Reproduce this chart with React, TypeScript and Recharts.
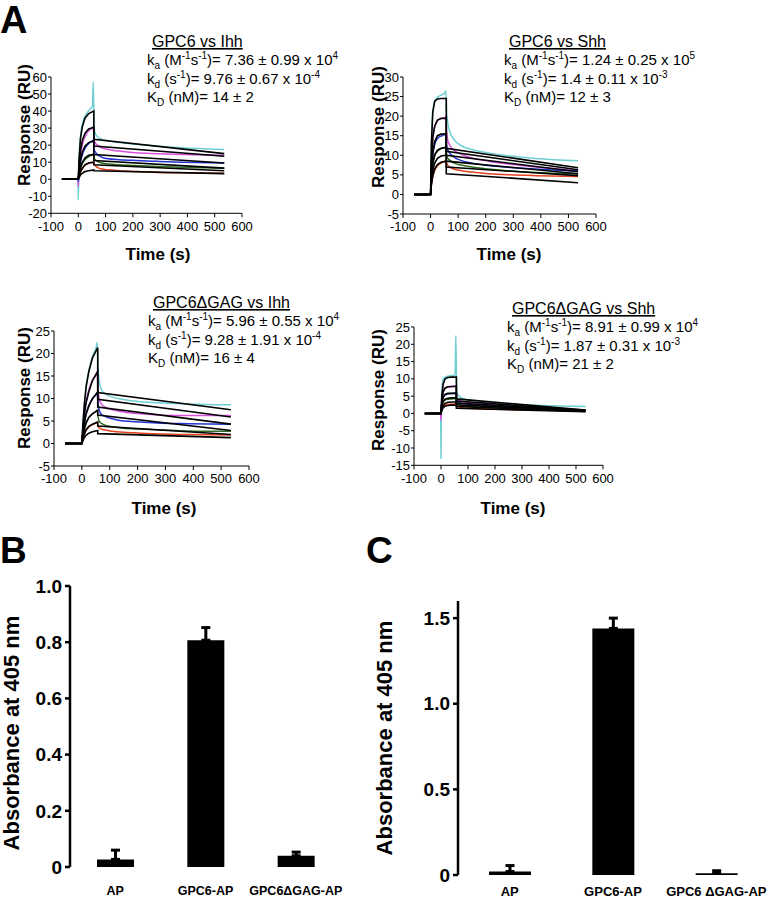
import React from "react";
import { LineChart, Line, XAxis, YAxis, BarChart, Bar, ErrorBar } from "recharts";

const FONT = "'Liberation Sans', Arial, Helvetica, sans-serif";

// sensorgram sampling times (s)
const traceTimes = [-60, -1, 0, 2, 8, 16, 28, 42, 52, 55, 58, 62, 70, 85, 110, 150, 210, 290, 380, 535];
const fitTimes = [-60, 0, 3, 8, 15, 25, 38, 57, 57, 535];
const timeTicks = [-100, 0, 100, 200, 300, 400, 500, 600];
const traceColors = ["#6dcfd2", "#dc4fdf", "#2233d2", "#2f6c22", "#e2421c"];

// GPC6 vs Ihh
const ihhTraces = [
  [0, 0, -12, 8, 25, 33, 38, 41, 43, 57, 30, 27, 25, 23.5, 22.5, 21.5, 20.5, 19.5, 18.5, 17.5],
  [0, 0, -4, 4, 14, 21, 26, 29, 30, 31, 23, 21.5, 20, 18.5, 17.5, 16.5, 15.5, 15, 14.5, 14],
  [0, 0, -1, 3, 10, 15, 19, 21.5, 22.5, 23, 17.5, 16, 14.5, 13, 12, 11.5, 11, 10.5, 10, 9.5],
  [0, 0, 0, 2, 6, 9.5, 12, 13.5, 14.5, 15, 12.5, 11.5, 10.5, 9.5, 9, 8.5, 8, 7.5, 7, 6.5],
  [0, 0, 0, 1.5, 4, 6.5, 8.5, 9.5, 10, 10, 9, 8, 7, 6, 5.5, 5, 4.5, 4, 3.8, 3.5],
];
const ihhFits = [
  [0, 0, 12, 24, 31, 36, 38.5, 40, 23.5, 15],
  [0, 0, 8, 17, 23, 27, 29.5, 30.5, 19.5, 13.5],
  [0, 0, 5, 11, 16, 19.5, 21.5, 22.5, 14.5, 9.5],
  [0, 0, 3, 7, 10, 12.5, 14, 14.5, 11, 6.5],
  [0, 0, 2, 4.5, 6.5, 8.5, 9.5, 10, 8.5, 5],
  [0, 0, 1, 2.5, 3.5, 4.5, 5, 5.5, 5, 3.3],
];

// GPC6 vs Shh
const shhTraces = [
  [0, 0, 0, 8, 21, 24, 25, 25.5, 26, 26.5, 21, 18.5, 16, 14, 12.5, 11.5, 10.6, 9.8, 9.2, 8.6],
  [0, 0, 0, 5, 14, 17.5, 19, 19.5, 19.5, 20, 16, 14, 12.5, 11.3, 10.3, 9.3, 8.5, 7.7, 7, 6.1],
  [0, 0, 0, 4, 10, 13, 14.5, 15, 15.3, 15.5, 12.5, 11.5, 10.5, 9.5, 8.7, 8, 7.4, 6.9, 6.5, 6],
  [0, 0, 0, 3, 7.5, 10, 11.2, 11.8, 12, 12.2, 10, 9.3, 8.7, 8, 7.5, 7, 6.5, 6, 5.6, 5.3],
  [0, 0, 0, 2, 4.5, 6.3, 7.5, 8.2, 8.5, 8.7, 8, 7.5, 7, 6.5, 6.1, 5.7, 5.3, 5, 4.8, 4.6],
];
const shhFits = [
  [0, 0, 13, 21, 23.8, 24.4, 24.5, 24.5, 11.8, 6.8],
  [0, 0, 8, 14.5, 17.5, 19, 19.4, 19.5, 11, 6.3],
  [0, 0, 5.5, 10.5, 13.5, 15, 15.4, 15.5, 10, 5.8],
  [0, 0, 4, 8, 10.2, 11.3, 11.8, 12, 8.5, 5.3],
  [0, 0, 3, 6, 8, 9.2, 9.8, 10, 7, 4.8],
  [0, 0, 2.5, 4.8, 6.5, 7.6, 8.2, 8.5, 5.3, 3],
];

// GPC6ΔGAG vs Ihh
const dIhhTraces = [
  [0, 0, 0, 2, 8, 13, 17, 20, 21.5, 22.5, 17, 14, 12, 11, 10.3, 9.8, 9.3, 9, 8.8, 8.6],
  [0, 0, 0, 1.5, 6, 9.5, 12.5, 14.5, 15.5, 16, 12, 10, 8.8, 8, 7.5, 7, 6.6, 6.3, 6.2, 6.2],
  [0, 0, 0, 1, 4, 6.8, 8.8, 10.2, 11, 11.3, 9, 7.5, 6.5, 6, 5.5, 5, 4.8, 4.5, 4.4, 4.3],
  [0, 0, 0, 0.8, 3, 4.7, 6, 6.8, 7.2, 7.4, 6, 5, 4.5, 4, 3.7, 3.4, 3.2, 3, 2.8, 2.7],
  [0, 0, 0, 0.5, 1.8, 3, 3.8, 4.3, 4.6, 4.7, 4, 3.5, 3.2, 3, 2.7, 2.5, 2.3, 2.1, 2, 1.9],
];
const dIhhFits = [
  [0, 0, 3.5, 8, 12.5, 16, 19, 21.3, 11.3, 7.5],
  [0, 0, 2.5, 6, 9, 11.5, 14, 16, 9.8, 5.9],
  [0, 0, 1.8, 4.2, 6.5, 8.3, 10, 11.4, 8.1, 4.3],
  [0, 0, 1.3, 3, 4.5, 5.8, 6.6, 7.4, 6.3, 2.9],
  [0, 0, 0.9, 2, 3, 3.8, 4.3, 4.8, 3.9, 2],
  [0, 0, 0.5, 1.2, 1.8, 2.3, 2.6, 2.9, 2.2, 1.3],
];

// GPC6ΔGAG vs Shh
const dShhTraces = [
  [0, 0, -13, 5, 10, 10.5, 10.8, 11, 11, 22.5, 6.5, 5.5, 4.8, 4.2, 3.8, 3.4, 3, 2.6, 2.3, 2],
  [0, 0, -2, 3, 6.5, 7.3, 7.6, 7.8, 7.9, 8, 4.5, 4, 3.7, 3.4, 3.1, 2.8, 2.4, 2, 1.5, 1],
  [0, 0, 0, 2.5, 4.8, 5.4, 5.7, 5.8, 5.9, 6, 3.8, 3.4, 3.1, 2.8, 2.6, 2.3, 2, 1.7, 1.3, 0.9],
  [0, 0, 0, 1.8, 3.4, 3.9, 4.1, 4.2, 4.3, 4.3, 3, 2.7, 2.4, 2.2, 2, 1.8, 1.6, 1.3, 1.1, 0.8],
  [0, 0, 0, 1, 2, 2.4, 2.6, 2.7, 2.7, 2.8, 2.2, 2, 1.8, 1.6, 1.5, 1.3, 1.2, 1, 0.9, 0.7],
];
const dShhFits = [
  [0, 0, 5, 8.5, 10, 10.4, 10.5, 10.5, 4.2, 1],
  [0, 0, 3.5, 6.2, 7.3, 7.7, 7.8, 7.8, 3.6, 0.9],
  [0, 0, 2.6, 4.6, 5.5, 5.8, 5.8, 5.8, 3, 0.8],
  [0, 0, 1.9, 3.4, 4.1, 4.4, 4.5, 4.5, 2.5, 0.7],
  [0, 0, 1.3, 2.3, 2.9, 3.2, 3.3, 3.3, 2, 0.6],
  [0, 0, 0.9, 1.6, 2.1, 2.3, 2.4, 2.4, 1.5, 0.5],
];

// binding assays (absorbance at 405 nm)
const bNames = ["AP", "GPC6-AP", "GPC6ΔGAG-AP"];
const bMeans = [0.027, 0.807, 0.04];
const bErrs = [0.033, 0.045, 0.013];
const bTicks = [0, 0.2, 0.4, 0.6, 0.8, 1.0];

const cNames = ["AP", "GPC6-AP", "GPC6 ΔGAG-AP"];
const cMeans = [0.02, 1.44, 0.01];
const cErrs = [0.035, 0.06, 0.015];
const cTicks = [0, 0.5, 1.0, 1.5];

function toPoints(times: number[], values: number[]) {
  return times.map((t, i) => ({ t, v: values[i] }));
}

function SprChart({ left, top, plotW, plotH, yDomain, yTicks, traces, fits }: any) {
  const yw = 40, mt = 8, mr = 16, xh = 26;
  return (
    <div style={{ position: "absolute", left: left - yw, top: top - mt }}>
      <LineChart width={yw + plotW + mr} height={mt + plotH + xh} margin={{ top: mt, right: mr, left: 0, bottom: 0 }}>
        <XAxis type="number" dataKey="t" domain={[-100, 600]} ticks={timeTicks} interval={0} allowDataOverflow
          height={xh} tickSize={4} tickMargin={4} stroke="#000" tick={{ fontSize: 13, fill: "#000" }} />
        <YAxis type="number" domain={yDomain} ticks={yTicks} interval={0} allowDataOverflow
          width={yw} tickSize={3} tickMargin={1} stroke="#000" tick={{ fontSize: 13, fill: "#000" }} />
        {traces.map((vals: number[], i: number) => (
          <Line key={"tr" + i} data={toPoints(traceTimes, vals)} dataKey="v" type="monotone"
            stroke={traceColors[i]} strokeWidth={1.5} dot={false} isAnimationActive={false} />
        ))}
        {fits.map((vals: number[], i: number) => (
          <Line key={"fit" + i} data={toPoints(fitTimes, vals)} dataKey="v" type="linear"
            stroke="#000" strokeWidth={1.6} dot={false} isAnimationActive={false} />
        ))}
      </LineChart>
    </div>
  );
}

function AbsorbanceChart({ left, top, plotW, plotH, names, means, errs, yMax, yTicks, barSize, labelSize, labelGap }: any) {
  const yw = 60, mt = 12, mr = 6, xh = 30;
  const rows = names.map((name: string, i: number) => ({ name, pos: i + 0.5, mean: means[i], err: [0, errs[i]] }));
  const edges = names.map((_: string, i: number) => i).concat([names.length]);
  return (
    <div style={{ position: "absolute", left: left - yw, top: top - mt }}>
      <BarChart width={yw + plotW + mr} height={mt + plotH + xh} data={rows} margin={{ top: mt, right: mr, left: 0, bottom: 0 }}>
        <XAxis xAxisId="edge" type="number" dataKey="pos" domain={[0, names.length]} ticks={edges} interval={0}
          allowDataOverflow height={0} tick={false} tickSize={6}
          axisLine={{ stroke: "#000", strokeWidth: 2.5 }} tickLine={{ stroke: "#000", strokeWidth: 2.5 }} />
        <XAxis xAxisId="cat" dataKey="name" height={xh} axisLine={false} tickLine={false} tickSize={0}
          tickMargin={labelGap} interval={0} tick={{ fontSize: labelSize, fontWeight: 700, fill: "#000" }} />
        <YAxis type="number" domain={[0, yMax]} ticks={yTicks} interval={0} width={yw} tickSize={5} tickMargin={3}
          axisLine={{ stroke: "#000", strokeWidth: 2.5 }} tickLine={{ stroke: "#000", strokeWidth: 2.5 }}
          tickFormatter={(v: number) => (v === 0 ? "0" : v.toFixed(1))}
          tick={{ fontSize: 19, fontWeight: 700, fill: "#000" }} />
        <Bar xAxisId="cat" dataKey="mean" fill="#000" barSize={barSize} isAnimationActive={false}>
          <ErrorBar dataKey="err" direction="y" width={4.5} strokeWidth={3} stroke="#000" />
        </Bar>
      </BarChart>
    </div>
  );
}

function Kinetics({ x, y, title, ka, kaExp, kd, kdExp, kD }: any) {
  const fs = 15, sm = 10;
  return (
    <g fontSize={fs} fill="#000">
      <text x={x + 5} y={y} fontSize={16} textDecoration="underline">{title}</text>
      <text x={x} y={y + 18}>
        k<tspan dy={4} fontSize={sm}>a</tspan>
        <tspan dy={-4}> (M</tspan>
        <tspan dy={-6} fontSize={sm}>-1</tspan>
        <tspan dy={6}>s</tspan>
        <tspan dy={-6} fontSize={sm}>-1</tspan>
        <tspan dy={6}>)= {ka} x 10</tspan>
        <tspan dy={-6} fontSize={sm}>{kaExp}</tspan>
      </text>
      <text x={x} y={y + 36.5}>
        k<tspan dy={4} fontSize={sm}>d</tspan>
        <tspan dy={-4}> (s</tspan>
        <tspan dy={-6} fontSize={sm}>-1</tspan>
        <tspan dy={6}>)= {kd} x 10</tspan>
        <tspan dy={-6} fontSize={sm}>{kdExp}</tspan>
      </text>
      <text x={x} y={y + 55}>
        K<tspan dy={4} fontSize={sm}>D</tspan>
        <tspan dy={-4}> (nM)= {kD}</tspan>
      </text>
    </g>
  );
}

function VText({ x, y, size, children }: any) {
  return (
    <text x={x} y={y} fontSize={size} fontWeight={700} textAnchor="middle" transform={`rotate(-90 ${x} ${y})`}>
      {children}
    </text>
  );
}

export default function App() {
  return (
    <div style={{ position: "absolute", left: 0, top: 0, width: 774, height: 901, background: "#fff", fontFamily: FONT, overflow: "hidden" }}>
      <SprChart left={51} top={76.7} plotW={191} plotH={136.3} yDomain={[-20, 60]}
        yTicks={[-20, -10, 0, 10, 20, 30, 40, 50, 60]} traces={ihhTraces} fits={ihhFits} />
      <SprChart left={403} top={76.7} plotW={193} plotH={137} yDomain={[-5, 30]}
        yTicks={[-5, 0, 5, 10, 15, 20, 25, 30]} traces={shhTraces} fits={shhFits} />
      <SprChart left={54} top={331} plotW={195} plotH={135} yDomain={[-5, 25]}
        yTicks={[-5, 0, 5, 10, 15, 20, 25]} traces={dIhhTraces} fits={dIhhFits} />
      <SprChart left={414} top={326.7} plotW={189} plotH={138.3} yDomain={[-15, 25]}
        yTicks={[-15, -10, -5, 0, 5, 10, 15, 20, 25]} traces={dShhTraces} fits={dShhFits} />

      <AbsorbanceChart left={70} top={586} plotW={271} plotH={281} names={bNames} means={bMeans} errs={bErrs}
        yMax={1.0} yTicks={bTicks} barSize={37} labelSize={12.5} labelGap={19} />
      <AbsorbanceChart left={458} top={601} plotW={310} plotH={274} names={cNames} means={cMeans} errs={cErrs}
        yMax={1.6} yTicks={cTicks} barSize={42} labelSize={13} labelGap={12} />

      <svg width={774} height={901} style={{ position: "absolute", left: 0, top: 0, pointerEvents: "none", fontFamily: FONT }}>
        <text x={0} y={33} fontSize={38} fontWeight={700}>A</text>
        <text x={0} y={563} fontSize={37} fontWeight={700}>B</text>
        <text x={366} y={563} fontSize={37} fontWeight={700}>C</text>

        <Kinetics x={147} y={47} title="GPC6 vs Ihh" ka="7.36 ± 0.99" kaExp="4" kd="9.76 ± 0.67" kdExp="-4" kD="14 ± 2" />
        <Kinetics x={504} y={47} title="GPC6 vs Shh" ka="1.24 ± 0.25" kaExp="5" kd="1.4 ± 0.11" kdExp="-3" kD="12 ± 3" />
        <Kinetics x={148} y={308} title="GPC6ΔGAG vs Ihh" ka="5.96 ± 0.55" kaExp="4" kd="9.28 ± 1.91" kdExp="-4" kD="16 ± 4" />
        <Kinetics x={507} y={314} title="GPC6ΔGAG vs Shh" ka="8.91 ± 0.99" kaExp="4" kd="1.87 ± 0.31" kdExp="-3" kD="21 ± 2" />

        <VText x={30} y={125} size={17}>Response (RU)</VText>
        <VText x={384} y={127} size={17}>Response (RU)</VText>
        <VText x={30} y={388} size={17}>Response (RU)</VText>
        <VText x={384} y={390} size={17}>Response (RU)</VText>

        <text x={158} y={260} fontSize={17} fontWeight={700} textAnchor="middle">Time (s)</text>
        <text x={509} y={260} fontSize={17} fontWeight={700} textAnchor="middle">Time (s)</text>
        <text x={164} y={514} fontSize={17} fontWeight={700} textAnchor="middle">Time (s)</text>
        <text x={513} y={514} fontSize={17} fontWeight={700} textAnchor="middle">Time (s)</text>

        <VText x={19} y={733} size={22}>Absorbance at 405 nm</VText>
        <VText x={392} y={738} size={22}>Absorbance at 405 nm</VText>
      </svg>
    </div>
  );
}
